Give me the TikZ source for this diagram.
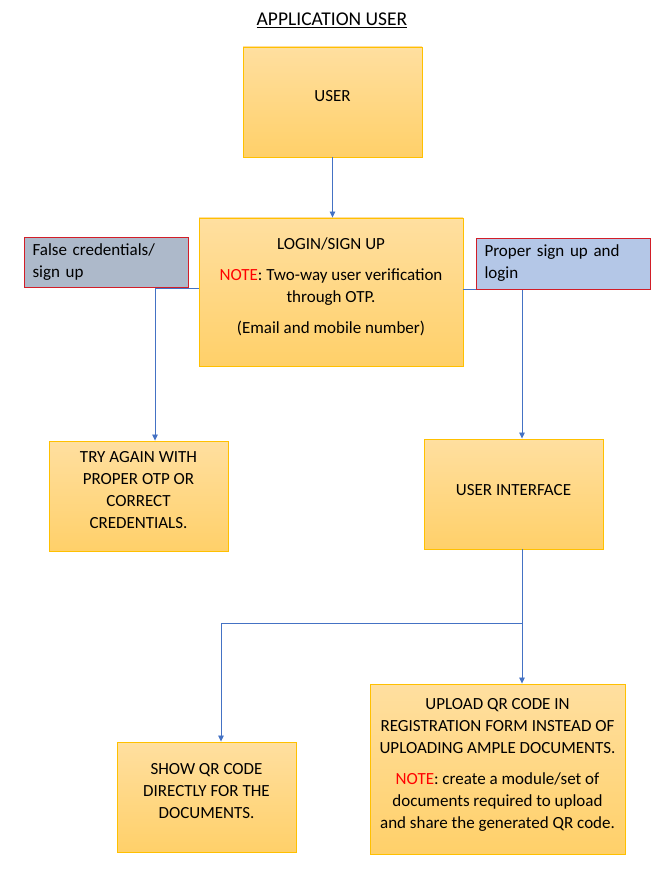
\documentclass[tikz,border=0pt]{standalone}
\usepackage{fontspec}
\setmainfont{Carlito}
\usetikzlibrary{arrows.meta}
\definecolor{boxtop}{RGB}{255,223,160}
\definecolor{boxbot}{RGB}{255,208,105}
\definecolor{boxline}{RGB}{255,192,0}
\definecolor{arrowblue}{RGB}{68,114,196}
\definecolor{notered}{RGB}{255,0,0}
\definecolor{greyblue}{RGB}{173,185,202}
\definecolor{lightblue}{RGB}{180,199,231}
\definecolor{redline}{RGB}{210,30,40}
\newcommand{\notered}{\textcolor{notered}{NOTE}}
\begin{document}
\begin{tikzpicture}[x=1pt,y=-1pt,
  procbox/.style={draw=boxline, line width=0.9pt, top color=boxtop, bottom color=boxbot,
    inner sep=0pt},
  boxtext/.style={inner sep=0pt, font=\fontsize{17}{22}\selectfont, align=center},
  labelbox/.style={draw=redline, line width=0.9pt, inner xsep=8.5pt, inner ysep=0pt,
    font=\fontsize{17}{22}\selectfont, align=left},
  conn/.style={draw=arrowblue, line width=0.8pt},
  arr/.style={conn, -{Triangle[length=6pt,width=5.5pt]}}]
\useasboundingbox (0,0) rectangle (671,893);
\fill[white] (0,0) rectangle (671,893);

\node[inner sep=0pt, font=\fontsize{19.5}{22}\selectfont] (title) at (332,20) {\underline{APPLICATION USER}};

% boxes
\node[procbox, minimum width=179pt, minimum height=110pt] (user) at (332.5,102) {};
\node[procbox, minimum width=264pt, minimum height=148pt] (login) at (331,292) {};
\node[procbox, minimum width=179pt, minimum height=110pt] (try) at (138.5,496) {};
\node[procbox, minimum width=179pt, minimum height=110pt] (ui) at (513.5,494) {};
\node[procbox, minimum width=255pt, minimum height=170pt] (upload) at (497.5,769) {};
\node[procbox, minimum width=179pt, minimum height=110pt] (show) at (206.5,797) {};

% box texts
\node[boxtext] (usertext) at (332.5,96) {USER};
\node[boxtext] (logintext) at (331,286.5)
  {LOGIN/SIGN UP\\[9pt] \notered: Two-way user verification\\ through OTP.\\[9pt] (Email and mobile number)};
\node[boxtext] (trytext) at (138.5,490.5)
  {TRY AGAIN WITH\\ PROPER OTP OR\\ CORRECT\\ CREDENTIALS.};
\node[boxtext] (uitext) at (513.5,490) {USER INTERFACE};
\node[boxtext] (uploadtext) at (497.5,765)
  {UPLOAD QR CODE IN\\ REGISTRATION FORM INSTEAD OF\\ UPLOADING AMPLE DOCUMENTS.\\[9pt]
   \notered: create a module/set of\\ documents required to upload\\ and share the generated QR code.};
\node[boxtext] (showtext) at (206.5,791)
  {SHOW QR CODE\\ DIRECTLY FOR THE\\ DOCUMENTS.};

% connectors
\draw[arr] (user.south) -- (user.south |- login.north);
\coordinate (lstart) at ([yshift=4pt]login.west);
\coordinate (lend) at ([xshift=16.5pt]try.north);
\draw[arr] (lstart) -| (lend);
\coordinate (rstart) at ([yshift=3pt]login.east);
\coordinate (rend) at ([xshift=8.5pt]ui.north);
\draw[arr] (rstart) -| (rend);
\coordinate (uibot) at ([xshift=8.5pt]ui.south);
\draw[arr] (uibot) -- (uibot |- upload.north);
\coordinate (branch) at (uibot |- 0,623);
\coordinate (showtop) at ([xshift=14.5pt]show.north);
\draw[arr] (branch) -| (showtop);

% labels over the lines
\node[labelbox, fill=greyblue, minimum width=164pt, minimum height=50pt, text width=147pt] (false) at (106,262)
  {False credentials/\\ sign up};
\node[labelbox, fill=lightblue, minimum width=174pt, minimum height=51pt, text width=157pt] (proper) at (563,263.5)
  {Proper sign up and\\ login};
\end{tikzpicture}
\end{document}
